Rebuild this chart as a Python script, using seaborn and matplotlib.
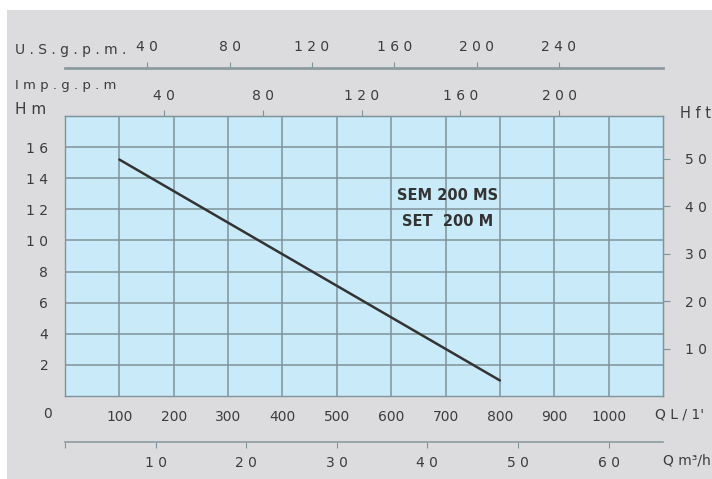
import numpy as np
import matplotlib
matplotlib.use("Agg")
import matplotlib.pyplot as plt
import matplotlib.patches as patches
import seaborn as sns

# pump curve (flow in l/min, head in m)
flow_lmin = [100, 800]
head_m = [15.2, 1.0]

x_ticks = [100, 200, 300, 400, 500, 600, 700, 800, 900, 1000]
y_ticks = [2, 4, 6, 8, 10, 12, 14, 16]
usgpm_ticks = [40, 80, 120, 160, 200, 240]
impgpm_ticks = [40, 80, 120, 160, 200]
hft_ticks = [10, 20, 30, 40, 50]
m3h_ticks = [0, 10, 20, 30, 40, 50, 60]
model_lines = ["SEM 200 MS", "SET  200 M"]

W, H = 712, 479
TXT = "#3c3c3c"
GRID = "#7f939b"
BG = "#dcdcde"
FACE = "#c9eaf9"

sns.set_style("white")
plt.rcParams["font.family"] = ["DejaVu Sans"]


def px(x, y):
    return x / W, 1 - y / H


def spaced(v, pos=None):
    # the original uses wide letter spacing in the scale numbers
    return " ".join(str(int(v))) if v else ""


fig = plt.figure(figsize=(W / 100, H / 100), dpi=100)
fig.patch.set_facecolor("white")
fig.patches.append(patches.Rectangle((7 / W, 0), 1, 1 - 10 / H, transform=fig.transFigure,
                                     facecolor=BG, edgecolor="none", zorder=-5))

left, right, top, bottom = 65, 663, 116, 396
ax = fig.add_axes([left / W, 1 - bottom / H, (right - left) / W, (bottom - top) / H])
ax.set_facecolor(FACE)
ax.set_xlim(0, 1100)
ax.set_ylim(0, 18)
ax.set_xticks(x_ticks)
ax.set_yticks(y_ticks)
ax.set_yticklabels([spaced(t) for t in y_ticks])
ax.grid(True, color=GRID, lw=1.1)
for s in ax.spines.values():
    s.set_color(GRID)
    s.set_linewidth(1)
ax.tick_params(axis="x", length=0, pad=10, labelsize=10, labelcolor=TXT)
ax.tick_params(axis="y", length=0, pad=12, labelsize=10, labelcolor=TXT)

sns.lineplot(x=flow_lmin, y=head_m, ax=ax, color="#333333", lw=1.8)
ax.set_xlabel("")
ax.set_ylabel("")

# model name
ax.text(703, 12.9, model_lines[0], ha="center", va="center", fontsize=10.5,
        fontweight="bold", color="#333333")
ax.text(703, 11.2, model_lines[1], ha="center", va="center", fontsize=10.5,
        fontweight="bold", color="#333333")

# secondary scales
imp = ax.secondary_xaxis("top", functions=(lambda q: q / 4.546, lambda g: g * 4.546))
imp.set_xticks(impgpm_ticks)
imp.set_xticklabels([spaced(t) for t in impgpm_ticks])
imp.tick_params(length=4, color=GRID, pad=5, labelsize=10, labelcolor=TXT)
imp.spines["top"].set_color(GRID)

us_pos = (bottom - 68) / (bottom - top)
us = ax.secondary_xaxis(us_pos, functions=(lambda q: q / 3.785, lambda g: g * 3.785))
us.set_xticks(usgpm_ticks)
us.set_xticklabels([spaced(t) for t in usgpm_ticks])
us.tick_params(length=4, color=GRID, pad=6, labelsize=10, labelcolor=TXT)
us.spines["top"].set_color("#8c9ba1")
us.spines["top"].set_linewidth(2)

m3_pos = (bottom - 442) / (bottom - top)
m3 = ax.secondary_xaxis(m3_pos, functions=(lambda q: q * 0.06, lambda m: m / 0.06))
m3.set_xticks(m3h_ticks)
m3.set_xticklabels([spaced(t) for t in m3h_ticks])
m3.tick_params(length=4, color=GRID, pad=6, labelsize=10, labelcolor=TXT)
m3.spines["bottom"].set_color("#8c9ba1")
m3.spines["bottom"].set_linewidth(1.2)

hft = ax.secondary_yaxis("right", functions=(lambda m: m / 0.3048, lambda f: f * 0.3048))
hft.set_yticks(hft_ticks)
hft.set_yticklabels([spaced(t) for t in hft_ticks])
hft.tick_params(length=5, color=GRID, pad=11, labelsize=10, labelcolor=TXT)
hft.spines["right"].set_color(GRID)

# axis titles
fig.text(*px(15, 50), "U . S . g . p . m .", ha="left", va="center", fontsize=10, color=TXT)
fig.text(*px(15, 86), "I m p . g . p . m", ha="left", va="center", fontsize=9.5, color=TXT)
fig.text(*px(15, 109), "H m", ha="left", va="center", fontsize=11, color=TXT)
fig.text(*px(680, 113), "H f t", ha="left", va="center", fontsize=10.5, color=TXT)
fig.text(*px(48, 414), "0", ha="center", va="center", fontsize=10, color=TXT)
fig.text(*px(655, 414), "Q L / 1'", ha="left", va="center", fontsize=10, color=TXT)
fig.text(*px(663, 461), "Q m³/h", ha="left", va="center", fontsize=10, color=TXT)

fig.savefig("out.png", dpi=100)
